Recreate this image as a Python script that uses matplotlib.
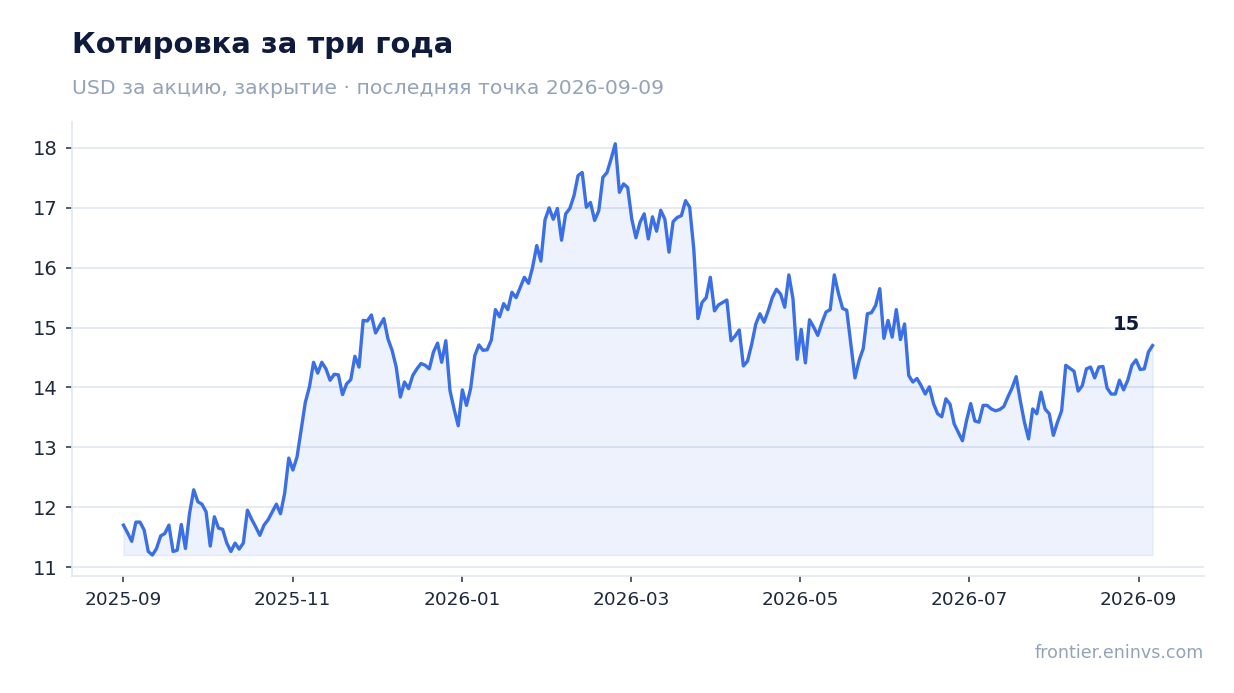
import matplotlib
matplotlib.use("Agg")
import matplotlib.pyplot as plt
import matplotlib.dates as mdates
import numpy as np
import pandas as pd

start_date = "2025-09-01"
end_date = "2026-09-07"

prices = [
    11.70, 11.57, 11.43, 11.75, 11.75, 11.62, 11.26, 11.20, 11.31, 11.52,
    11.56, 11.70, 11.26, 11.28, 11.71, 11.31, 11.90, 12.29, 12.09, 12.05,
    11.92, 11.35, 11.84, 11.65, 11.63, 11.40, 11.26, 11.40, 11.30, 11.40,
    11.95, 11.80, 11.67, 11.53, 11.70, 11.79, 11.92, 12.05, 11.89, 12.23,
    12.82, 12.62, 12.84, 13.30, 13.75, 14.01, 14.42, 14.24, 14.42, 14.31,
    14.12, 14.22, 14.21, 13.88, 14.06, 14.13, 14.52, 14.34, 15.12, 15.11,
    15.21, 14.91, 15.03, 15.15, 14.81, 14.62, 14.34, 13.84, 14.09, 13.98,
    14.20, 14.31, 14.40, 14.37, 14.31, 14.59, 14.74, 14.42, 14.78, 13.95,
    13.64, 13.36, 13.96, 13.70, 13.98, 14.53, 14.71, 14.62, 14.63, 14.79,
    15.30, 15.18, 15.40, 15.30, 15.59, 15.50, 15.67, 15.84, 15.74, 16.01,
    16.37, 16.11, 16.80, 17.00, 16.81, 16.99, 16.46, 16.90, 16.99, 17.20,
    17.54, 17.59, 17.01, 17.09, 16.79, 16.95, 17.51, 17.59, 17.82, 18.07,
    17.26, 17.40, 17.34, 16.81, 16.50, 16.76, 16.90, 16.48, 16.85, 16.61,
    16.96, 16.81, 16.26, 16.77, 16.84, 16.87, 17.12, 17.01, 16.31, 15.15,
    15.42, 15.50, 15.84, 15.28, 15.38, 15.42, 15.46, 14.78, 14.86, 14.96,
    14.36, 14.44, 14.72, 15.06, 15.23, 15.09, 15.28, 15.50, 15.64, 15.56,
    15.34, 15.88, 15.48, 14.47, 14.97, 14.41, 15.13, 15.01, 14.87, 15.08,
    15.26, 15.30, 15.88, 15.57, 15.32, 15.29, 14.73, 14.16, 14.45, 14.65,
    15.23, 15.25, 15.37, 15.65, 14.82, 15.12, 14.84, 15.30, 14.80, 15.06,
    14.20, 14.09, 14.15, 14.03, 13.89, 14.01, 13.73, 13.56, 13.51, 13.81,
    13.72, 13.39, 13.25, 13.11, 13.45, 13.73, 13.44, 13.42, 13.70, 13.70,
    13.64, 13.61, 13.63, 13.68, 13.84, 13.99, 14.18, 13.78, 13.42, 13.14,
    13.64, 13.56, 13.92, 13.64, 13.56, 13.20, 13.42, 13.61, 14.37, 14.32,
    14.27, 13.94, 14.03, 14.31, 14.34, 14.16, 14.34, 14.35, 13.99, 13.89,
    13.89, 14.12, 13.96, 14.12, 14.37, 14.46, 14.30, 14.31, 14.59, 14.70,
]

x_tick_dates = ["2025-09-01", "2025-11-01", "2026-01-01", "2026-03-03",
                "2026-05-03", "2026-07-03", "2026-09-02"]
y_ticks = [11, 12, 13, 14, 15, 16, 17, 18]

title_text = "Котировка за три года"
subtitle_text = "USD за акцию, закрытие · последняя точка 2026-09-09"
footer_text = "frontier.eninvs.com"

dates = pd.date_range(start_date, end_date, periods=len(prices))
values = np.array(prices)

LINE = "#3b6fe6"
NAVY = "#0f1b3d"
MUTED = "#94a3b8"
GRID = "#e2e8f0"
TICK = "#1e293b"

W, H = 1234, 693
fig = plt.figure(figsize=(W / 100, H / 100), dpi=100)
ax = fig.add_axes([72 / W, 1 - 576 / H, (1204 - 72) / W, (576 - 122) / H])

ax.fill_between(dates, values, values.min(), color=LINE, alpha=0.09, linewidth=1)
ax.plot(dates, values, color=LINE, linewidth=2.4, solid_joinstyle="round")

ax.set_ylim(10.85, 18.434)
ax.set_yticks(y_ticks)
ax.margins(x=0.05)

ax.set_xticks(pd.to_datetime(x_tick_dates))
ax.xaxis.set_major_formatter(mdates.DateFormatter("%Y-%m"))

ax.grid(axis="y", color=GRID, linewidth=1.2)
ax.grid(axis="x", visible=False)
ax.set_axisbelow(True)
for s in ["top", "right"]:
    ax.spines[s].set_visible(False)
for s in ["left", "bottom"]:
    ax.spines[s].set_color(GRID)
    ax.spines[s].set_linewidth(1.2)

ax.tick_params(axis="y", labelsize=14, colors="#334155", labelcolor=TICK,
               length=4.5, width=1.2, pad=6)
ax.tick_params(axis="x", labelsize=13.3, colors="#334155", labelcolor=TICK,
               length=4.5, width=1.2, pad=6)

last_label = f"{values[-1]:.0f}"
ax.annotate(last_label, xy=(dates[-1], values[-1]), xytext=(-19, 11),
            textcoords="offset points", ha="center", va="baseline",
            fontsize=14, fontweight="bold", color=NAVY)

fig.text(72 / W, 1 - 53.3 / H, title_text, fontsize=20.9, fontweight="bold",
         color=NAVY, ha="left", va="baseline")
fig.text(72 / W, 1 - 94 / H, subtitle_text, fontsize=14.7, color=MUTED,
         ha="left", va="baseline")
fig.text(1204 / W, 1 - 658.3 / H, footer_text, fontsize=12.6, color=MUTED,
         ha="right", va="baseline")

fig.savefig("out.png", dpi=100)
